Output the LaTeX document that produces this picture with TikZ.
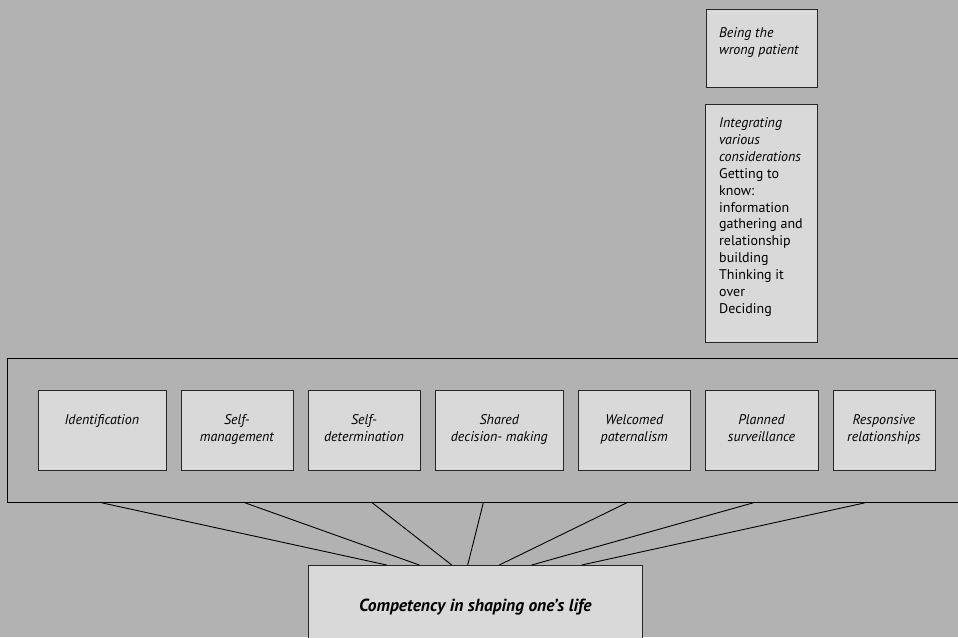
\documentclass[tikz,border=0pt]{standalone}
\usepackage{fontspec}
\setmainfont{PT Sans}
\definecolor{pagegray}{HTML}{B2B2B2}
\definecolor{boxgray}{HTML}{D9D9D9}
\begin{document}
\begin{tikzpicture}[x=1pt,y=-1pt,
  box/.style={draw=black!85,line width=0.9pt,fill=boxgray,inner sep=0pt,anchor=north west},
  frame/.style={draw=black,line width=0.8pt,inner sep=0pt,anchor=north west},
  lbl/.style={inner sep=0pt,font=\fontsize{14}{16.9}\selectfont\itshape},
  spoke/.style={draw=black,line width=0.9pt}]
% page
\fill[pagegray] (0,0) rectangle (958,637);
\useasboundingbox (0,0) rectangle (958,637);
\renewcommand\arraystretch{1}
\setlength\tabcolsep{0pt}

% stacked boxes at the top right
\node[box,minimum width=111pt,minimum height=78pt] (wrong) at (705.5,8.5) {};
\node[lbl,anchor=base west] (wrongtxt) at (719,37.5) {\begin{tabular}[t]{@{}l@{}}Being the\\wrong patient\end{tabular}};
\node[box,minimum width=112pt,minimum height=238pt] (integ) at (705,104) {};
\node[lbl,anchor=base west] (integtxt) at (719,127.5) {\begin{tabular}[t]{@{}l@{}}Integrating\\various\\considerations\\
  \upshape Getting to\\\upshape know:\\\upshape information\\\upshape gathering and\\\upshape relationship\\\upshape building\\
  \upshape Thinking it\\\upshape over\\\upshape Deciding\end{tabular}};

% frame holding the seven aspects
\node[frame,minimum width=956pt,minimum height=144pt] (band) at (7,358) {};

\foreach \n/\xa/\xb/\t in {
  b1/38/165.7/{Identification},
  b2/181/292.7/{Self-\\management},
  b3/308/420/{Self-\\determination},
  b4/435.3/563.3/{Shared\\decision- making},
  b5/578.3/690.3/{Welcomed\\paternalism},
  b6/705.3/817.7/{Planned\\surveillance},
  b7/832.7/935/{Responsive\\relationships}} {
  \node[box,minimum width={\xb-\xa},minimum height=80pt] (\n) at (\xa,390) {};
  \node[lbl,anchor=base] (\n t) at ({(\xa+\xb)/2},424.5) {\begin{tabular}[t]{@{}c@{}}\t\end{tabular}};
}

% outcome box
\node[box,minimum width=334pt,minimum height=80pt] (goal) at (308.3,565) {};
\node[inner sep=0pt,anchor=base,font=\fontsize{17.5}{20}\selectfont\bfseries\itshape] (goaltxt) at (475.3,611.5) {Competency in shaping one’s life};

% spokes from the frame down to the outcome box
\foreach \i/\xt/\xg in {1/101.7/386.7, 2/245/419.3, 3/372.3/451.7, 4/483.3/467.7, 5/626.7/499.3, 6/753.3/531.7, 7/865/581.7} {
  \coordinate (top\i) at ([xshift={\xt-7}]band.south west);
  \coordinate (bot\i) at ([xshift={\xg-308.3}]goal.north west);
  \draw[spoke] (top\i) -- (bot\i);
}
\end{tikzpicture}
\end{document}
